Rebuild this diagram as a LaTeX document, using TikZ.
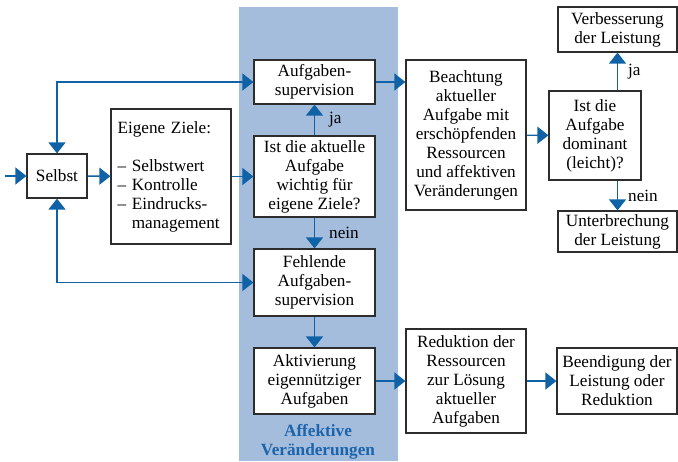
\documentclass[tikz,border=0pt]{standalone}
\usepackage{fontspec}
\setmainfont{Liberation Serif}
\usetikzlibrary{arrows.meta}
\definecolor{linkblue}{RGB}{16,98,166}
\definecolor{bandblue}{RGB}{164,189,220}
\definecolor{titleblue}{RGB}{28,100,172}
\definecolor{boxgray}{RGB}{45,45,45}
\begin{document}
\begin{tikzpicture}[x=1pt,y=-1pt,
  txt/.style={font=\fontsize{17.2}{19}\selectfont},
  box/.style={txt,draw=boxgray,fill=white,line width=1.2pt,align=center,inner sep=2pt},
  tip/.tip={Triangle[length=11pt,width=17pt]},
  flow/.style={draw=linkblue,line width=1.4pt,-tip},
  both/.style={draw=linkblue,line width=1.4pt,tip-tip},
  lbl/.style={txt,anchor=west,inner sep=0pt}]
\useasboundingbox (0,0) rectangle (678,461);

% shaded column
\fill[bandblue] (239,7) rectangle (398,461);
\node[font=\fontsize{17.2}{19}\selectfont\bfseries,text=titleblue,align=center] (band) at (318,442) {Affektive\\Veränderungen};

% boxes
\node[box,minimum width=60pt,minimum height=44pt] (selbst) at (57,176) {Selbst};
\node[box,minimum width=120pt,minimum height=135pt,text width=107pt,align=left,inner xsep=6pt] (ziele) at (171,176.5)
  {Eigene Ziele:\\\mbox{}\\– Selbstwert\\– Kontrolle\\– Eindrucks-\\\phantom{– }management};
\node[box,minimum width=121pt,minimum height=44pt] (aufsup) at (314.5,82) {Aufgaben-\\supervision};
\node[box,minimum width=121pt,minimum height=81pt] (ist) at (314.5,176.5) {Ist die aktuelle\\Aufgabe\\wichtig für\\eigene Ziele?};
\node[box,minimum width=121pt,minimum height=67pt] (fehlend) at (314.5,282.5) {Fehlende\\Aufgaben-\\supervision};
\node[box,minimum width=121pt,minimum height=66pt] (aktiv) at (314.5,381) {Aktivierung\\eigennütziger\\Aufgaben};
\node[box,minimum width=120pt,minimum height=150pt] (beacht) at (466,135) {Beachtung\\aktueller\\Aufgabe mit\\erschöpfenden\\Ressourcen\\und affektiven\\Veränderungen};
\node[box,minimum width=92pt,minimum height=89pt] (istauf) at (595,135.5) {Ist die\\Aufgabe\\dominant\\(leicht)?};
\node[box,minimum width=119pt,minimum height=45pt] (verb) at (617.5,29.5) {Verbesserung\\der Leistung};
\node[box,minimum width=119pt,minimum height=41pt] (unter) at (617.5,231.5) {Unterbrechung\\der Leistung};
\node[box,minimum width=120pt,minimum height=104pt] (reduk) at (466,381) {Reduktion der\\Ressourcen\\zur Lösung\\aktueller\\Aufgaben};
\node[box,minimum width=120pt,minimum height=66pt] (beend) at (617,381) {Beendigung der\\Leistung oder\\Reduktion};

% connectors
\coordinate (start) at (5,176);
\draw[flow] (start) -- (selbst.west);
\draw[flow] (selbst) -- (ziele);
\draw[flow] (ziele.east) -- (ist.west);
\draw[both] (selbst.north) |- (aufsup.west);
\draw[both] (selbst.south) |- (fehlend.west);
\draw[flow] (ist.north) -- node[lbl,right=14pt] {ja} (aufsup.south);
\draw[flow] (ist.south) -- node[lbl,right=14pt] {nein} (fehlend.north);
\draw[flow] (fehlend) -- (aktiv);
\draw[flow] (aktiv) -- (reduk);
\draw[flow] (reduk) -- (beend);
\draw[flow] (aufsup.east) -- (aufsup.east -| beacht.west);
\draw[flow] (beacht) -- (istauf);
\draw[flow] (istauf.north -| verb.south) -- node[lbl,right=10pt] {ja} (verb.south);
\draw[flow] (istauf.south -| unter.north) -- node[lbl,right=10pt] {nein} (unter.north);
\end{tikzpicture}
\end{document}
